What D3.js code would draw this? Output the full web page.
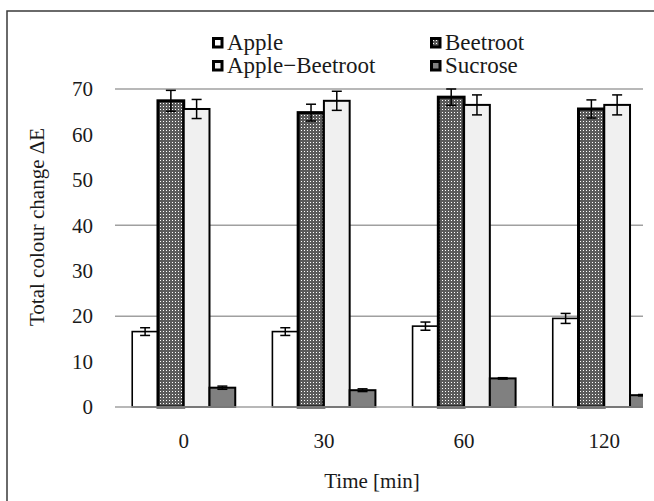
<!DOCTYPE html>
<html>
<head>
<meta charset="utf-8">
<script src="https://cdn.jsdelivr.net/npm/d3@7"></script>
<style>
html,body{margin:0;padding:0;background:#fff;overflow:hidden;}
</style>
</head>
<body>
<svg id="chart" width="654" height="501"></svg>
<script>
// ---- data ----
const categories = ["0", "30", "60", "120"];
const seriesNames = ["Apple", "Beetroot", "Apple\u2212Beetroot", "Sucrose"];
const appleValues = [16.6, 16.6, 17.8, 19.5];
const appleErrors = [0.85, 0.85, 0.9, 1.1];
const beetrootValues = [67.4, 64.8, 68.2, 65.6];
const beetrootErrors = [2.3, 1.85, 1.8, 2.0];
const appleBeetrootValues = [65.6, 67.4, 66.5, 66.5];
const appleBeetrootErrors = [2.1, 2.1, 2.2, 2.2];
const sucroseValues = [4.25, 3.7, 6.3, 2.6];
const sucroseErrors = [0.35, 0.3, 0.15, 0.15];
const yTicks = [0, 10, 20, 30, 40, 50, 60, 70];
const gridValues = [20, 40, 70];
const yTitle = "Total colour change \u0394E";
const xTitle = "Time [min]";

const seriesValues = [appleValues, beetrootValues, appleBeetrootValues, sucroseValues];
const seriesErrors = [appleErrors, beetrootErrors, appleBeetrootErrors, sucroseErrors];

const FONT = "'Liberation Serif', 'Times New Roman', serif";
const TXT = "#1a1a1a";

// ---- layout ----
const svg = d3.select("#chart");
const plotLeft = 115, plotRight = 643, bandRight = 674;
const plotTop = 89, plotBottom = 407;

const defs = svg.append("defs");
const pat = defs.append("pattern").attr("id", "beet").attr("patternUnits", "userSpaceOnUse")
  .attr("width", 3).attr("height", 3);
pat.append("rect").attr("width", 3).attr("height", 3).attr("fill", "#5a5a5a");
pat.append("rect").attr("x", 1).attr("y", 1).attr("width", 1).attr("height", 1).attr("fill", "#ffffff");
defs.append("clipPath").attr("id", "plotclip").append("rect")
  .attr("x", plotLeft - 5).attr("y", 0).attr("width", plotRight - plotLeft + 5).attr("height", 501);

const fills = ["#ffffff", "url(#beet)", "#f0f0f0", "#808080"];
const strokeW = [1.6, 3, 2, 2];

// outer frame
svg.append("rect").attr("x", 7).attr("y", 11).attr("width", 700).attr("height", 600)
  .attr("fill", "none").attr("stroke", "#3a3a3a").attr("stroke-width", 1.5);

const x0 = d3.scaleBand().domain(categories).range([plotLeft - 1, bandRight]).paddingInner(0.265).paddingOuter(0.13);
const x1 = d3.scaleBand().domain(d3.range(seriesNames.length)).range([0, x0.bandwidth()]);
const y = d3.scaleLinear().domain([0, 70]).range([plotBottom, plotTop]);

// gridlines
svg.append("g").selectAll("line").data(gridValues).join("line")
  .attr("x1", plotLeft).attr("x2", plotRight)
  .attr("y1", d => y(d)).attr("y2", d => y(d))
  .attr("stroke", "#a0a0a0").attr("stroke-width", 1.5);

// bars
const plot = svg.append("g").attr("clip-path", "url(#plotclip)");
seriesNames.forEach((s, si) => {
  const g = plot.append("g");
  g.selectAll("rect").data(categories).join("rect")
    .attr("x", c => x0(c) + x1(si))
    .attr("y", (c, i) => y(seriesValues[si][i]))
    .attr("width", x1.bandwidth())
    .attr("height", (c, i) => y(0) - y(seriesValues[si][i]))
    .attr("fill", fills[si]).attr("stroke", "#000").attr("stroke-width", strokeW[si]);
});

// baseline
svg.append("line").attr("x1", plotLeft).attr("x2", plotRight).attr("y1", y(0)).attr("y2", y(0))
  .attr("stroke", "#a0a0a0").attr("stroke-width", 1.5);

// error bars
seriesNames.forEach((s, si) => {
  const g = plot.append("g").attr("stroke", "#000").attr("stroke-width", 1.5);
  categories.forEach((c, i) => {
    const cx = x0(c) + x1(si) + x1.bandwidth() / 2;
    const v = seriesValues[si][i], e = seriesErrors[si][i];
    g.append("line").attr("x1", cx).attr("x2", cx).attr("y1", y(v + e)).attr("y2", y(v - e));
    g.append("line").attr("x1", cx - 5).attr("x2", cx + 5).attr("y1", y(v + e)).attr("y2", y(v + e));
    g.append("line").attr("x1", cx - 5).attr("x2", cx + 5).attr("y1", y(v - e)).attr("y2", y(v - e));
  });
});

// y axis labels
const yAxis = d3.axisLeft(y).tickValues(yTicks).tickSize(0).tickPadding(0).tickFormat(d3.format("d"));
const ya = svg.append("g").attr("transform", "translate(93,0)").call(yAxis)
  .attr("font-family", FONT).attr("font-size", 21);
ya.select(".domain").remove();
ya.selectAll("text").style("font-family", FONT).style("font-size", "21px").attr("fill", TXT);

// x axis labels
const xAxis = d3.axisBottom(x0).tickSize(0).tickPadding(0);
const xa = svg.append("g").attr("transform", "translate(0,433)").call(xAxis)
  .attr("font-family", FONT).attr("font-size", 21);
xa.select(".domain").remove();
xa.selectAll("text").style("font-family", FONT).style("font-size", "21px").attr("fill", TXT);

// titles
svg.append("text").attr("transform", "translate(44,227) rotate(-90)")
  .attr("text-anchor", "middle").style("font-family", FONT).style("font-size", "21px")
  .attr("fill", TXT).text(yTitle);
svg.append("text").attr("x", 372).attr("y", 488).attr("text-anchor", "middle")
  .style("font-family", FONT).style("font-size", "21px").attr("fill", TXT).text(xTitle);

// legend
const legPos = [[212, 37], [430, 37], [212, 60], [430, 60]];
seriesNames.forEach((s, si) => {
  const [lx, ly] = legPos[si];
  svg.append("rect").attr("x", lx + 1.5).attr("y", ly + 1.5).attr("width", 8.5).attr("height", 8.5)
    .attr("fill", fills[si]).attr("stroke", "#000").attr("stroke-width", 3);
  svg.append("text").attr("x", lx + 15).attr("y", ly + 13)
    .style("font-family", FONT).style("font-size", "23px").attr("fill", TXT).text(s);
});
</script>
</body>
</html>
